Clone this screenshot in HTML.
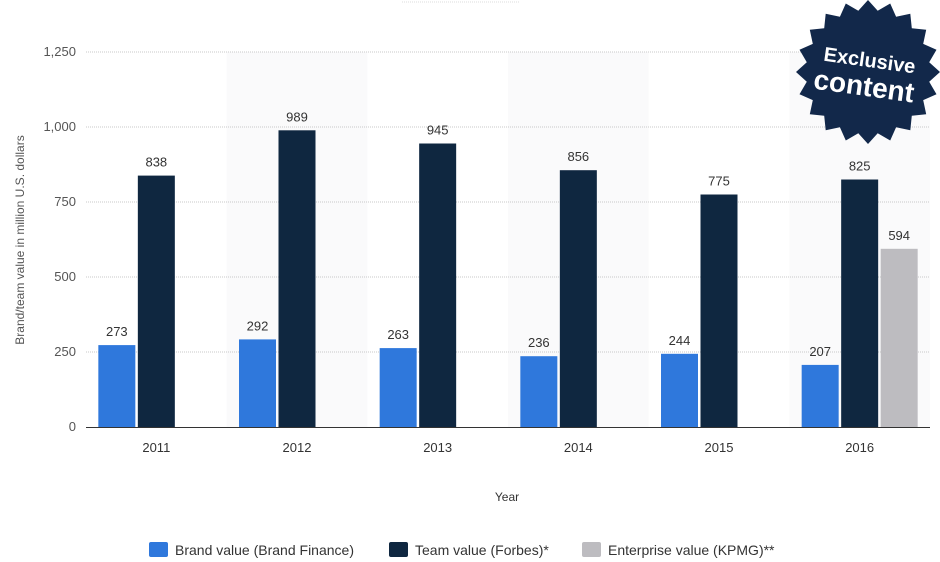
<!DOCTYPE html>
<html><head><meta charset="utf-8"><style>
body{margin:0;background:#fff;}
svg{display:block;font-family:"Liberation Sans",sans-serif;}
</style></head><body>
<svg id="c" width="940" height="562"></svg>
<script>
const categories=["2011","2012","2013","2014","2015","2016"];
const brandValues=[273,292,263,236,244,207];
const teamValues=[838,989,945,856,775,825];
const enterpriseValues=[null,null,null,null,null,594];
const yTicks=[0,250,500,750,1000,1250];
const yTickLabels=["0","250","500","750","1,000","1,250"];
const seriesNames=["Brand value (Brand Finance)","Team value (Forbes)*","Enterprise value (KPMG)**"];
const colors=["#2f78dc","#0f2740","#bdbcc0"];
const NS="http://www.w3.org/2000/svg";
const svg=document.getElementById('c');
function mk(t,a,p){const e=document.createElementNS(NS,t);for(const k in a)e.setAttribute(k,a[k]);(p||svg).appendChild(e);return e;}
const x0=86,x1=930,y0=427,yTop=52,yMax=1250;
const cw=(x1-x0)/categories.length;
function y(v){return y0-(v/yMax)*(y0-yTop);}
function cx(i){return x0+cw*i;}
// bands
categories.forEach((c,i)=>{if(i%2==1){const r=mk('rect',{x:cx(i),y:yTop,width:cw,height:y0-yTop,fill:'#fafafb'});}});
// gridlines + ticks
yTicks.forEach((t,i)=>{
 if(t>0){const l=mk('line',{x1:x0,x2:x1,y1:y(t),y2:y(t),stroke:'#c8c8c8','stroke-dasharray':'1,1'});}
 const tx=mk('text',{x:76,y:y(t)+4,'text-anchor':'end','font-size':13,fill:'#555'});tx.textContent=yTickLabels[i];
 
});
const ax=mk('line',{x1:x0,x2:x1,y1:y0+0.5,y2:y0+0.5,stroke:'#333'});
const series=[brandValues,teamValues,enterpriseValues];
const slot=39.5,bw=37;
categories.forEach((c,i)=>{
 const center=cx(i)+cw/2;
 series.forEach((s,k)=>{
  const v=s[i];if(v==null)return;
  const bx=center+(k-1)*slot-bw/2;
  const r=mk('rect',{x:bx,y:y(v),width:bw,height:y0-y(v),fill:colors[k]});
  
  const t=mk('text',{x:bx+bw/2,y:y(v)-9,'text-anchor':'middle','font-size':13,fill:'#333'});t.textContent=v;
  
 });
 const tl=mk('text',{x:center,y:452,'text-anchor':'middle','font-size':13,fill:'#333'});tl.textContent=c;
 
});
const xt=mk('text',{x:507,y:501,'text-anchor':'middle','font-size':12,fill:'#333'});xt.textContent='Year';

const yt=mk('text',{x:24,y:240,'text-anchor':'middle','font-size':12,fill:'#555',transform:'rotate(-90 24 240)'});yt.textContent='Brand/team value in million U.S. dollars';

// legend
const lx=[149,389,582];
seriesNames.forEach((n,k)=>{
 const g=mk('g',{});
 mk('rect',{x:lx[k],y:542,width:19,height:15,fill:colors[k],rx:2},g);
 const t=mk('text',{x:lx[k]+26,y:555,'font-size':14,fill:'#333'},g);t.textContent=n;
});
mk('line',{x1:402,x2:520,y1:2,y2:2,stroke:'#ddd','stroke-dasharray':'1,1'});
// badge
const bg=mk('g',{});
let pts=[];const N=20,cxB=868,cyB=72;
for(let i=0;i<2*N;i++){const r=i%2?62:72;const a=Math.PI*i/N;pts.push((cxB+r*Math.cos(a)).toFixed(1)+','+(cyB+r*Math.sin(a)).toFixed(1));}
mk('polygon',{points:pts.join(' '),fill:'#12284a'},bg);
const t1=mk('text',{x:868,y:67,'text-anchor':'middle','font-size':20,'font-weight':'bold',fill:'#fff',transform:'rotate(8 868 72)'},bg);t1.textContent='Exclusive';
const t2=mk('text',{x:866,y:96,'text-anchor':'middle','font-size':28,'font-weight':'bold',fill:'#fff',transform:'rotate(8 868 72)'},bg);t2.textContent='content';
</script>
</body></html>
